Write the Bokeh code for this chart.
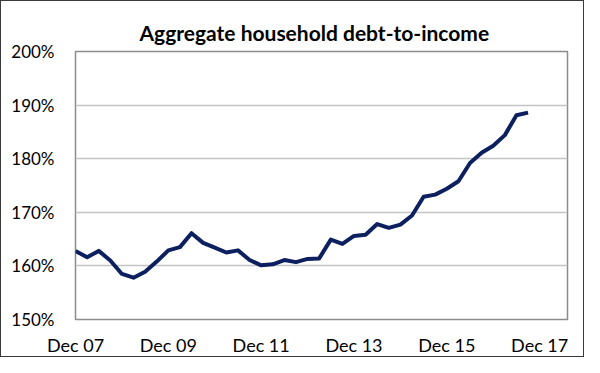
from bokeh.plotting import figure
from bokeh.models import ColumnDataSource, FixedTicker, PrintfTickFormatter, Range1d
from bokeh.embed import file_html
from bokeh.resources import INLINE

# Quarterly data, Dec 2007 .. Sep 2017
quarters = [
    "Dec 07", "Mar 08", "Jun 08", "Sep 08", "Dec 08", "Mar 09", "Jun 09", "Sep 09",
    "Dec 09", "Mar 10", "Jun 10", "Sep 10", "Dec 10", "Mar 11", "Jun 11", "Sep 11",
    "Dec 11", "Mar 12", "Jun 12", "Sep 12", "Dec 12", "Mar 13", "Jun 13", "Sep 13",
    "Dec 13", "Mar 14", "Jun 14", "Sep 14", "Dec 14", "Mar 15", "Jun 15", "Sep 15",
    "Dec 15", "Mar 16", "Jun 16", "Sep 16", "Dec 16", "Mar 17", "Jun 17", "Sep 17",
]
debt_to_income = [
    162.8, 161.6, 162.8, 161.0, 158.5, 157.8, 158.9, 160.8,
    162.9, 163.5, 166.1, 164.3, 163.4, 162.5, 162.9, 161.1,
    160.1, 160.3, 161.1, 160.7, 161.3, 161.4, 164.9, 164.1,
    165.6, 165.8, 167.8, 167.1, 167.7, 169.4, 172.9, 173.3,
    174.4, 175.8, 179.2, 181.1, 182.4, 184.4, 188.1, 188.6,
]
tick_labels = ["Dec 07", "Dec 09", "Dec 11", "Dec 13", "Dec 15", "Dec 17"]
y_ticks = [150, 160, 170, 180, 190, 200]

x_idx = list(range(len(quarters)))
tick_pos = [i * 8 for i in range(len(tick_labels))]

source = ColumnDataSource(data=dict(x=x_idx, y=debt_to_income, q=quarters))

FONT = "Lato"

p = figure(
    width=584, height=357,
    output_backend="svg", toolbar_location=None,
    x_range=Range1d(0, 42.4), y_range=Range1d(150, 200),
    min_border_left=74, min_border_right=18, min_border_top=50, min_border_bottom=31,
    title="Aggregate household debt-to-income",
    styles={"border": "1.5px solid #3a3a3a", "box-sizing": "border-box"},
)
p.title.align = "left"
p.title.text_font = FONT
p.title.text_font_size = "21px"
p.title.text_font_style = "bold"
p.title.text_color = "#000000"
p.title.offset = 64
p.title.standoff = 14

p.line("x", "y", source=source, line_color="#0c1f5e", line_width=4, line_join="round")

p.outline_line_color = "#8c8c8c"
p.outline_line_width = 1.5

p.xgrid.grid_line_color = None
p.ygrid.grid_line_color = "#c4c4c4"
p.ygrid.grid_line_width = 1.5

p.xaxis.ticker = FixedTicker(ticks=tick_pos)
p.xaxis.major_label_overrides = {t: l for t, l in zip(tick_pos, tick_labels)}
p.yaxis.ticker = FixedTicker(ticks=y_ticks)
p.yaxis.formatter = PrintfTickFormatter(format="%d%%")

for ax in (p.xaxis[0], p.yaxis[0]):
    ax.axis_line_color = None
    ax.major_tick_line_color = None
    ax.minor_tick_line_color = None
    ax.major_label_text_font = FONT
    ax.major_label_text_color = "#000000"

p.xaxis.major_label_text_font_size = "18px"
p.yaxis.major_label_text_font_size = "17px"
p.xaxis.major_label_standoff = 8
p.yaxis.major_label_standoff = 15

open("out.html", "w").write(file_html(p, INLINE))
